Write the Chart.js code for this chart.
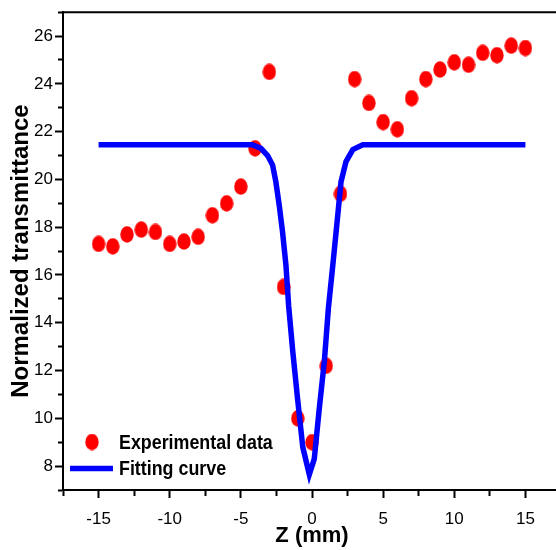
<!DOCTYPE html>
<html><head><meta charset="utf-8">
<script src="https://cdn.jsdelivr.net/npm/chart.js@4.4.1/dist/chart.umd.min.js"></script>
<style>
html,body{margin:0;padding:0;overflow:hidden;background:#fff;width:556px;height:550px}
#c{position:absolute;left:0;top:0;display:block}
</style></head><body>
<canvas id="c" width="569" height="550" style="width:569px;height:550px"></canvas>
<script>
// ---- data ----
const zPositions = [-15,-14,-13,-12,-11,-10,-9,-8,-7,-6,-5,-4,-3,-2,-1,0,1,2,3,4,5,6,7,8,9,10,11,12,13,14,15];
const experimentalT = [17.3,17.2,17.7,17.9,17.8,17.3,17.4,17.6,18.5,19.0,19.7,21.3,24.5,15.5,10.0,9.0,12.2,19.4,24.2,23.2,22.4,22.1,23.4,24.2,24.6,24.9,24.8,25.3,25.2,25.6,25.5];
const fitZ = [-15,-4.2,-3.59,-3.12,-2.77,-2.54,-2.30,-2.07,-1.83,-1.64,-1.36,-1.01,-0.65,-0.19,0.16,0.51,0.87,1.15,1.46,1.81,2.04,2.39,2.87,3.57,15];
const fitT = [21.45,21.45,21.3,21.0,20.6,19.9,18.9,17.8,16.4,14.7,12.85,10.8,8.8,7.65,8.3,10.4,12.4,14.6,16.4,18.5,19.9,20.75,21.25,21.45,21.45];
const xTickLabels = [-15,-10,-5,0,5,10,15];
const yTickLabels = [8,10,12,14,16,18,20,22,24,26];
const seriesNames = ['Experimental data','Fitting curve'];

const REG = '"Liberation Sans",Arial,sans-serif';

// elliptical marker (reference markers are slightly taller than wide)
function makeDot(){
  const c = document.createElement('canvas');
  c.width = 14; c.height = 17;
  const g = c.getContext('2d');
  g.fillStyle = '#ff0000';
  g.beginPath(); g.ellipse(7, 8.5, 6.7, 8.3, 0, 0, Math.PI*2); g.fill();
  return c;
}
const dot = makeDot();

const framePlugin = {
  id: 'frame',
  afterDatasetsDraw(chart){
    const {ctx, chartArea:a} = chart;
    ctx.save();
    ctx.strokeStyle = '#000'; ctx.lineWidth = 2;
    ctx.beginPath();
    ctx.moveTo(a.left-1, a.top); ctx.lineTo(a.right, a.top);
    ctx.moveTo(a.right, a.top); ctx.lineTo(a.right, a.bottom);
    ctx.stroke();
    ctx.restore();
  }
};

function squeezedText(ctx, text, x, y, sx){
  ctx.save();
  ctx.translate(x, y);
  ctx.scale(sx, 1);
  ctx.fillText(text, 0, 0);
  ctx.restore();
}

const legendPlugin = {
  id: 'insideLegend',
  afterDraw(chart){
    const ctx = chart.ctx;
    const ds = chart.data.datasets;
    ctx.save();
    ctx.font = 'bold 21px ' + REG;
    ctx.fillStyle = '#000';
    ctx.textBaseline = 'middle';
    ctx.textAlign = 'left';
    ctx.drawImage(dot, 92-7, 442-8.5);
    squeezedText(ctx, ds[0].label, 119, 443, 0.85);
    ctx.strokeStyle = ds[1].borderColor; ctx.lineWidth = 5.5;
    ctx.beginPath(); ctx.moveTo(70, 468.5); ctx.lineTo(113, 468.5); ctx.stroke();
    squeezedText(ctx, ds[1].label, 119, 469, 0.85);
    ctx.restore();
  }
};

new Chart(document.getElementById('c'), {
  type: 'scatter',
  data: {
    datasets: [
      {
        label: seriesNames[0],
        data: zPositions.map((z,i)=>({x:z, y:experimentalT[i]})),
        pointStyle: dot,
        pointRadius: 7,
        pointHoverRadius: 7,
        backgroundColor: '#ff0000',
        borderColor: '#ff0000',
        showLine: false,
        order: 1
      },
      {
        label: seriesNames[1],
        data: fitZ.map((z,i)=>({x:z, y:fitT[i]})),
        showLine: true,
        borderColor: '#0000ff',
        borderWidth: 5.5,
        pointRadius: 0,
        tension: 0,
        fill: false,
        order: 0
      }
    ]
  },
  options: {
    responsive: false,
    maintainAspectRatio: false,
    animation: false,
    devicePixelRatio: 1,
    events: [],
    layout: { padding: { top: 8, right: 3, left: 0, bottom: 0 } },
    plugins: { legend: { display: false }, tooltip: { enabled: false } },
    scales: {
      x: {
        type: 'linear', min: -17.5, max: 17.5,
        ticks: {
          stepSize: 2.5, autoSkip: false, maxRotation: 0, minRotation: 0,
          color: '#000', padding: 0,
          font: { family: REG, size: 17 },
          callback: v => xTickLabels.includes(v) ? String(v) : ''
        },
        grid: {
          drawOnChartArea: false, tickLength: 19, tickWidth: 2, tickColor: '#000',
          tickBorderDash: c => (c.tick && xTickLabels.includes(c.tick.value)) ? [7, 50] : [5, 50]
        },
        border: { color: '#000', width: 2 },
        title: { display: true, text: 'Z (mm)', color: '#000',
          font: { family: REG, size: 22, weight: 'bold' }, padding: { top: 0, bottom: 1 } },
        afterFit: s => { s.height = 60; }
      },
      y: {
        type: 'linear', min: 7, max: 27,
        ticks: {
          stepSize: 1, autoSkip: false, color: '#000', padding: 2,
          font: { family: REG, size: 17 },
          callback: v => yTickLabels.includes(v) ? String(v) : ''
        },
        grid: {
          drawOnChartArea: false, tickLength: 8, tickWidth: 2, tickColor: '#000',
          tickBorderDash: c => (c.tick && yTickLabels.includes(c.tick.value)) ? [] : [0, 3, 20, 0]
        },
        border: { color: '#000', width: 2 },
        title: { display: true, text: 'Normalized transmittance', color: '#000',
          font: { family: REG, size: 24, weight: 'bold' }, padding: { top: 7, bottom: 0 } },
        afterFit: s => { s.width = 63; }
      }
    }
  },
  plugins: [framePlugin, legendPlugin]
});
</script>
</body></html>
